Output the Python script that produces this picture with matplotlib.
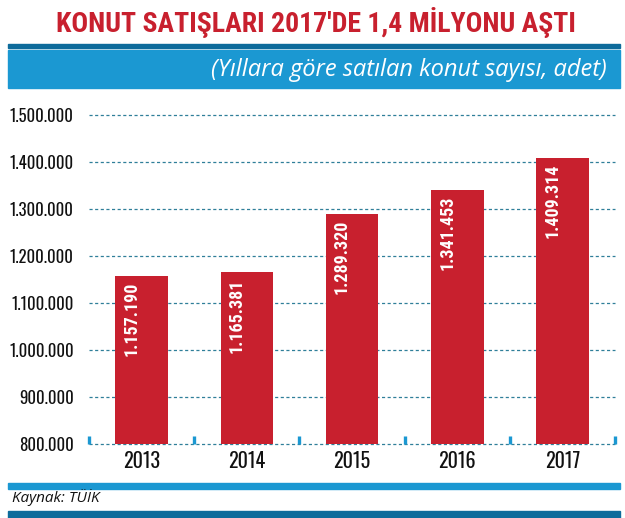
import matplotlib
matplotlib.use("Agg")
import matplotlib.pyplot as plt
from matplotlib.patches import Rectangle
from matplotlib import font_manager as fm

years = ["2013", "2014", "2015", "2016", "2017"]
sales = [1157190, 1165381, 1289320, 1341453, 1409314]
sales_labels = ["1.157.190", "1.165.381", "1.289.320", "1.341.453", "1.409.314"]
yticks = [800000, 900000, 1000000, 1100000, 1200000, 1300000, 1400000, 1500000]
ytick_labels = ["800.000", "900.000", "1.000.000", "1.100.000", "1.200.000",
                "1.300.000", "1.400.000", "1.500.000"]

title = "KONUT SATIŞLARI 2017'DE 1,4 MİLYONU AŞTI"
subtitle = "(Yıllara göre satılan konut sayısı, adet)"
source = "Kaynak: TÜİK"

available = {f.name for f in fm.fontManager.ttflist}

def pick(cands):
    return [c for c in cands if c in available] + ["DejaVu Sans"]

COND = pick(["Oswald", "Roboto Condensed", "Barlow Condensed", "Liberation Sans Narrow"])
BOLDC = pick(["Roboto Condensed", "Oswald", "Barlow Condensed", "Liberation Sans Narrow"])
ITAL = pick(["Open Sans", "Noto Sans"])

RED = "#c8202e"
LBLUE = "#1b98d2"
DBLUE = "#0d6b9b"

W, H = 625, 518
fig = plt.figure(figsize=(W / 100, H / 100), dpi=100)
fig.patch.set_facecolor("white")

def fx(px):
    return px / W

def fy(py):
    return 1 - py / H

# decorative bands
fig.patches.append(Rectangle((fx(8), fy(48)), fx(612), 4 / H, transform=fig.transFigure,
                             color=DBLUE, zorder=0))
fig.patches.append(Rectangle((fx(8), fy(88)), fx(612), 38 / H, transform=fig.transFigure,
                             color=LBLUE, zorder=0))
fig.patches.append(Rectangle((fx(8), fy(489)), fx(612), 6 / H, transform=fig.transFigure,
                             color=LBLUE, zorder=0))
fig.patches.append(Rectangle((fx(8), fy(518)), fx(612), 7 / H, transform=fig.transFigure,
                             color=DBLUE, zorder=0))

fig.text(fx(316), fy(23), title, ha="center", va="center", color=RED,
         fontsize=20, fontweight="bold", family=BOLDC)
fig.text(fx(607), fy(70), subtitle, ha="right", va="center", color="white",
         fontsize=17, style="italic", family=ITAL)
fig.text(fx(12), fy(498), source, ha="left", va="center", color="#111111",
         fontsize=11, style="italic", family=ITAL)

ax = fig.add_axes([fx(89), fy(444), fx(526), (444 - 115) / H])
x = list(range(len(years)))
ax.bar(x, sales, width=0.5, bottom=0, color=RED, zorder=3)
ax.set_xlim(-0.5, len(years) - 0.5)
ax.set_ylim(800000, 1500000)

for v in yticks:
    ax.axhline(v, color="#2f7f99", lw=0.9, ls=(0, (2.5, 2)), zorder=1, clip_on=False)

for i in range(len(years) + 1):
    ax.vlines(i - 0.5, 800000, 817000, color=LBLUE, lw=2.4, zorder=4, clip_on=False)

for xi, v, lab in zip(x, sales, sales_labels):
    ax.annotate(lab, (xi, v), xytext=(-10, -6), textcoords="offset pixels",
                rotation=90, ha="center", va="top", color="white",
                fontsize=13, fontweight="bold", family=BOLDC, zorder=5)

ax.set_yticks(yticks)
ax.set_yticklabels(ytick_labels, family=COND, fontsize=12, color="#111111")
ax.set_xticks(x)
ax.set_xticklabels(years, family=COND, fontsize=14.5, color="#111111")
ax.tick_params(axis="both", length=0)
ax.tick_params(axis="y", pad=11)
ax.tick_params(axis="x", pad=5)
for s in ax.spines.values():
    s.set_visible(False)
ax.set_facecolor("none")

fig.savefig("out.png", dpi=100)
